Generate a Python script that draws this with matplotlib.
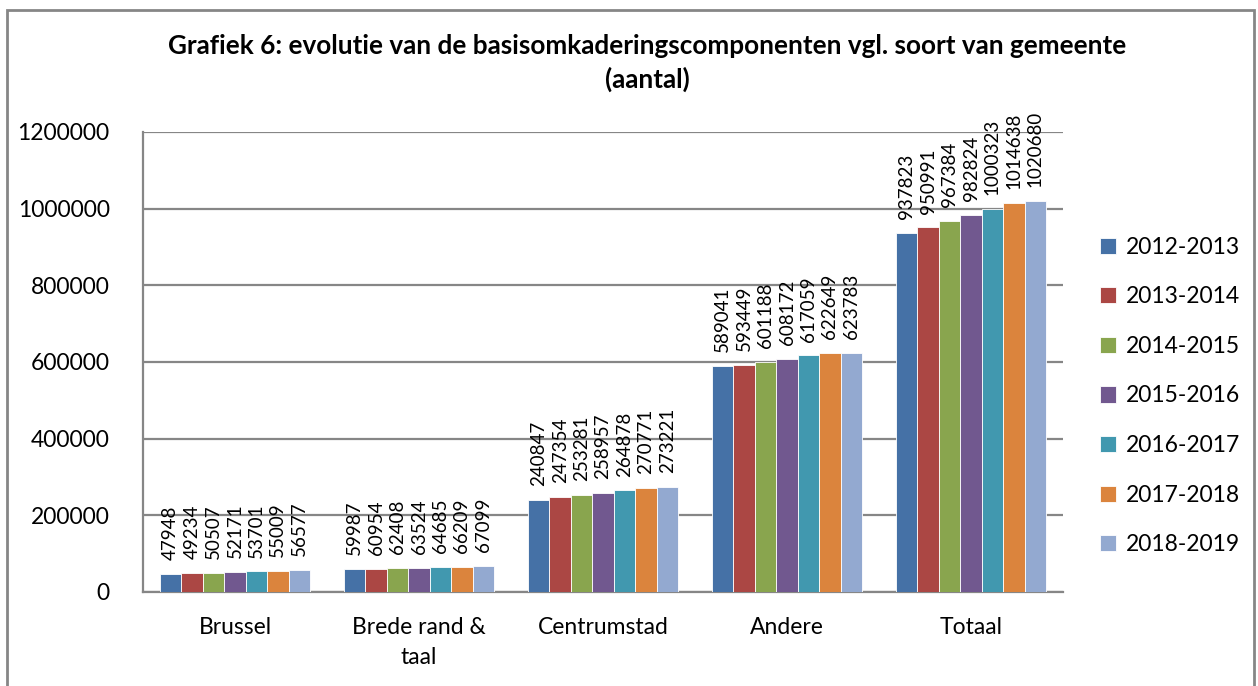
import matplotlib
matplotlib.use("Agg")
import matplotlib.pyplot as plt
import numpy as np
from matplotlib.patches import Rectangle

plt.rcParams['font.family'] = ['Lato', 'DejaVu Sans']

categories = ["Brussel", "Brede rand &\ntaal", "Centrumstad", "Andere", "Totaal"]
series = ["2012-2013", "2013-2014", "2014-2015", "2015-2016", "2016-2017", "2017-2018", "2018-2019"]
values = {
    "2012-2013": [47948, 59987, 240847, 589041, 937823],
    "2013-2014": [49234, 60954, 247354, 593449, 950991],
    "2014-2015": [50507, 62408, 253281, 601188, 967384],
    "2015-2016": [52171, 63524, 258957, 608172, 982824],
    "2016-2017": [53701, 64685, 264878, 617059, 1000323],
    "2017-2018": [55009, 66209, 270771, 622649, 1014638],
    "2018-2019": [56577, 67099, 273221, 623783, 1020680],
}
colors = ['#4571A6', '#AB4744', '#89A54E', '#71588F', '#4198AF', '#DB843D', '#93A9D0']
yticks = [0, 200000, 400000, 600000, 800000, 1000000, 1200000]

W, H = 1258, 686
fig = plt.figure(figsize=(W / 100, H / 100), dpi=100)
ax = fig.add_axes([143 / W, 1 - 592 / H, (1063 - 143) / W, (592 - 132) / H])

n = len(series)
bw = 0.815 / n
x = np.arange(len(categories))
for i, s in enumerate(series):
    pos = x - 0.815 / 2 + bw * (i + 0.5)
    bars = ax.bar(pos, values[s], width=bw, color=colors[i], edgecolor='white',
                  linewidth=0.6, label=s, zorder=3)
    for b, v in zip(bars, values[s]):
        ax.annotate(str(v), (b.get_x() + b.get_width() / 2, b.get_height()),
                    xytext=(0, 10), textcoords='offset points', rotation=90,
                    ha='center', va='bottom', fontsize=13.5, color='#000000')

ax.set_xlim(-0.5, len(categories) - 0.5)
ax.set_ylim(0, 1200000)
ax.set_yticks(yticks)
ax.set_yticklabels([str(t) for t in yticks], fontsize=16.5)
ax.set_xticks(x)
ax.set_xticklabels(categories, fontsize=16.5, linespacing=1.55)
ax.tick_params(axis='both', length=0)
ax.tick_params(axis='y', pad=24)
ax.tick_params(axis='x', pad=18)
ax.yaxis.grid(True, color='#868686', linewidth=1.6, zorder=0)
ax.set_axisbelow(True)
for sp in ['top', 'right']:
    ax.spines[sp].set_visible(False)
for sp in ['left', 'bottom']:
    ax.spines[sp].set_color('#868686')
    ax.spines[sp].set_linewidth(1.6)

leg = ax.legend(loc='center left', bbox_to_anchor=((1100 - 143) / 920, (592 - 396) / 460),
                frameon=False, fontsize=16.5, handlelength=0.7, handleheight=0.7,
                handletextpad=0.45, labelspacing=1.25, borderaxespad=0, borderpad=0)

fig.text(647 / W, 1 - 63 / H, "Grafiek 6: evolutie van de basisomkaderingscomponenten vgl. soort van gemeente\n(aantal)",
         ha='center', va='center', fontsize=18.8, fontweight='bold', linespacing=1.45)

fig.patches.append(Rectangle((7 / W, -0.01), (1254 - 7) / W, 1 - 10 / H + 0.01,
                             transform=fig.transFigure, fill=False,
                             edgecolor='#868686', linewidth=2))

fig.savefig("out.png", dpi=100)
